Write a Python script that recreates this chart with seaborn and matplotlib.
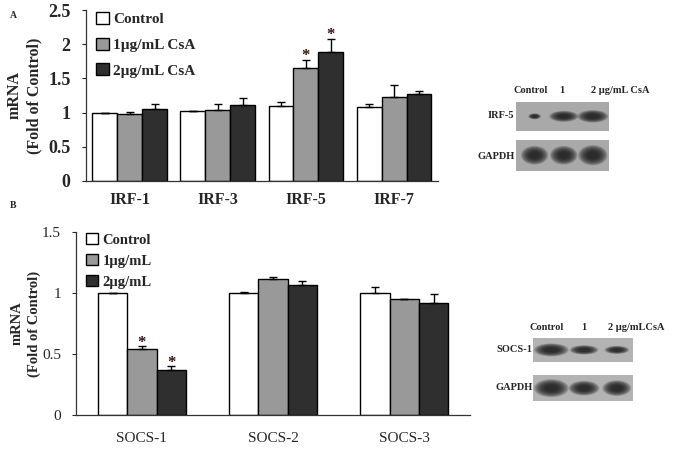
import numpy as np
import pandas as pd
import seaborn as sns
import matplotlib.pyplot as plt
from matplotlib.patches import Ellipse, Patch

# Panel A values (IRF genes)
irf_genes = ["IRF-1", "IRF-3", "IRF-5", "IRF-7"]
irf_groups = ["Control", "1µg/mL CsA", "2µg/mL CsA"]
irf_ctrl = [1.00, 1.02, 1.10, 1.08]
irf_1ug = [0.98, 1.04, 1.65, 1.23]
irf_2ug = [1.05, 1.11, 1.89, 1.27]
irf_ctrl_err = [0.00, 0.01, 0.05, 0.04]
irf_1ug_err = [0.03, 0.09, 0.12, 0.17]
irf_2ug_err = [0.08, 0.10, 0.19, 0.05]
irf_sig_1ug = [False, False, True, False]
irf_sig_2ug = [False, False, True, False]

# Panel B values (SOCS genes)
socs_genes = ["SOCS-1", "SOCS-2", "SOCS-3"]
socs_groups = ["Control", "1µg/mL", "2µg/mL"]
socs_ctrl = [1.00, 1.00, 1.00]
socs_1ug = [0.54, 1.12, 0.95]
socs_2ug = [0.37, 1.07, 0.92]
socs_ctrl_err = [0.00, 0.01, 0.05]
socs_1ug_err = [0.024, 0.015, 0.005]
socs_2ug_err = [0.03, 0.03, 0.07]
socs_sig_1ug = [True, False, False]
socs_sig_2ug = [True, False, False]

# western blot bands: relative width / thickness per lane
irf5_band_w = [0.35, 0.8, 0.85]
irf5_band_h = [0.16, 0.3, 0.34]
gapdh_a_band_w = [0.75, 0.75, 0.8]
gapdh_a_band_h = [0.48, 0.48, 0.52]
socs1_band_w = [0.85, 0.7, 0.6]
socs1_band_h = [0.42, 0.3, 0.26]
gapdh_b_band_w = [0.85, 0.75, 0.7]
gapdh_b_band_h = [0.55, 0.45, 0.48]

bar_colors = ["white", "#999999", "#2f2f2f"]
star_color = "#3a0d0d"

sns.set_style("white")
plt.rcParams["font.family"] = ["Liberation Serif", "DejaVu Serif"]


def long_table(genes, groups, series):
    rows = []
    for grp, vals in zip(groups, series):
        for g, v in zip(genes, vals):
            rows.append({"gene": g, "group": grp, "value": v})
    return pd.DataFrame(rows)


def draw_panel(ax, genes, groups, series, errs, sigs, width, ylim, yticks, bold,
               tick_fs, cat_fs, leg_fs, leg_space, xpad, ylab_fs, ylab_pad):
    df = long_table(genes, groups, series)
    sns.barplot(data=df, x="gene", y="value", hue="group", order=genes, hue_order=groups,
                palette=bar_colors, edgecolor="black", linewidth=1.0, width=width,
                errorbar=None, ax=ax)
    for cont, err, sig in zip(ax.containers, errs, sigs):
        xs = [p.get_x() + p.get_width() / 2 for p in cont.patches]
        ys = [p.get_height() for p in cont.patches]
        ax.errorbar(xs, ys, yerr=[np.zeros(len(err)), err], fmt="none", ecolor="black",
                    elinewidth=1.0, capsize=3, capthick=1.0)
        for x, y, e, s in zip(xs, ys, err, sig):
            if s:
                ax.text(x, y + e - 0.025 * ylim[1], "*", ha="center", va="bottom",
                        fontsize=12, color=star_color, fontweight="bold")
    ax.set_ylim(*ylim)
    ax.set_xlim(-0.5, len(genes) - 0.5)
    ax.set_yticks(yticks)
    ax.set_yticklabels([f"{t:g}" for t in yticks], fontsize=tick_fs,
                       fontweight="bold" if bold else "normal")
    ax.set_xticks(range(len(genes)))
    ax.set_xticklabels(genes, fontsize=cat_fs, fontweight="bold" if bold else "normal")
    ax.tick_params(axis="y", direction="out", length=3, width=0.8, left=True, pad=8)
    ax.tick_params(axis="x", length=0, pad=xpad)
    ax.set_xlabel("")
    ax.set_ylabel("mRNA\n(Fold of Control)", fontsize=ylab_fs, fontweight="bold",
                  labelpad=ylab_pad, linespacing=1.3)
    sns.despine(ax=ax)
    for sp in ["left", "bottom"]:
        ax.spines[sp].set_color("#333333")
        ax.spines[sp].set_linewidth(0.9)
    handles = [Patch(facecolor=c, edgecolor="black", linewidth=1.0) for c in bar_colors]
    ax.legend(handles, groups, loc="upper left", bbox_to_anchor=(0.0, 1.05), frameon=False,
              prop={"size": leg_fs, "weight": "bold"}, handlelength=0.8, handleheight=0.8,
              handletextpad=0.3, labelspacing=leg_space, borderaxespad=0.3)


def draw_blot(rect, widths, heights, xlim, bg):
    ax = fig.add_axes(rect)
    ax.set_facecolor(bg)
    for i, (w, h) in enumerate(zip(widths, heights)):
        for k in np.linspace(1.25, 0.45, 9):
            ax.add_patch(Ellipse((i, 0.5), w * k, h * k, color="#1a1a1a", alpha=0.2, lw=0))
    ax.set_xlim(*xlim)
    ax.set_ylim(0, 1)
    ax.set_xticks([])
    ax.set_yticks([])
    for sp in ax.spines.values():
        sp.set_visible(False)
    return ax


fig = plt.figure(figsize=(6.75, 4.58), dpi=100)

axA = fig.add_axes([0.127, 0.605, 0.522, 0.373])
draw_panel(axA, irf_genes, irf_groups, [irf_ctrl, irf_1ug, irf_2ug],
           [irf_ctrl_err, irf_1ug_err, irf_2ug_err],
           [[False] * 4, irf_sig_1ug, irf_sig_2ug],
           0.85, (0, 2.5), [0, 0.5, 1, 1.5, 2, 2.5], True, 13, 11.5, 11, 0.75, 8, 11.5, 4)

axB = fig.add_axes([0.113, 0.094, 0.583, 0.399])
draw_panel(axB, socs_genes, socs_groups, [socs_ctrl, socs_1ug, socs_2ug],
           [socs_ctrl_err, socs_1ug_err, socs_2ug_err],
           [[False] * 3, socs_sig_1ug, socs_sig_2ug],
           0.67, (0, 1.5), [0, 0.5, 1, 1.5], False, 11, 11, 10.5, 0.5, 12, 10.5, 1)

# panel letters
fig.text(0.015, 0.961, "A", fontsize=7, fontweight="bold")
fig.text(0.015, 0.546, "B", fontsize=7, fontweight="bold")

# blot A
draw_blot([0.764, 0.714, 0.138, 0.064], irf5_band_w, irf5_band_h, (-0.65, 2.55), "#a9a9a9")
draw_blot([0.764, 0.627, 0.138, 0.068], gapdh_a_band_w, gapdh_a_band_h, (-0.65, 2.55), "#a9a9a9")
fig.text(0.760, 0.803, "Control", fontsize=7.5, fontweight="bold", va="center")
fig.text(0.828, 0.803, "1", fontsize=7.5, fontweight="bold", va="center")
fig.text(0.876, 0.803, "2 µg/mL CsA", fontsize=7.5, fontweight="bold", va="center")
fig.text(0.762, 0.747, "IRF-5", fontsize=7.5, fontweight="bold", ha="right", va="center")
fig.text(0.762, 0.659, "GAPDH", fontsize=7.5, fontweight="bold", ha="right", va="center")

# blot B
draw_blot([0.790, 0.209, 0.148, 0.054], socs1_band_w, socs1_band_h, (-0.55, 2.5), "#b3b3b3")
draw_blot([0.790, 0.124, 0.148, 0.057], gapdh_b_band_w, gapdh_b_band_h, (-0.55, 2.5), "#b3b3b3")
fig.text(0.784, 0.286, "Control", fontsize=7.5, fontweight="bold", va="center")
fig.text(0.861, 0.286, "1", fontsize=7.5, fontweight="bold", va="center")
fig.text(0.901, 0.286, "2 µg/mLCsA", fontsize=7.5, fontweight="bold", va="center")
fig.text(0.789, 0.236, "SOCS-1", fontsize=7.5, fontweight="bold", ha="right", va="center")
fig.text(0.789, 0.153, "GAPDH", fontsize=7.5, fontweight="bold", ha="right", va="center")

fig.savefig("out.png", dpi=100)
